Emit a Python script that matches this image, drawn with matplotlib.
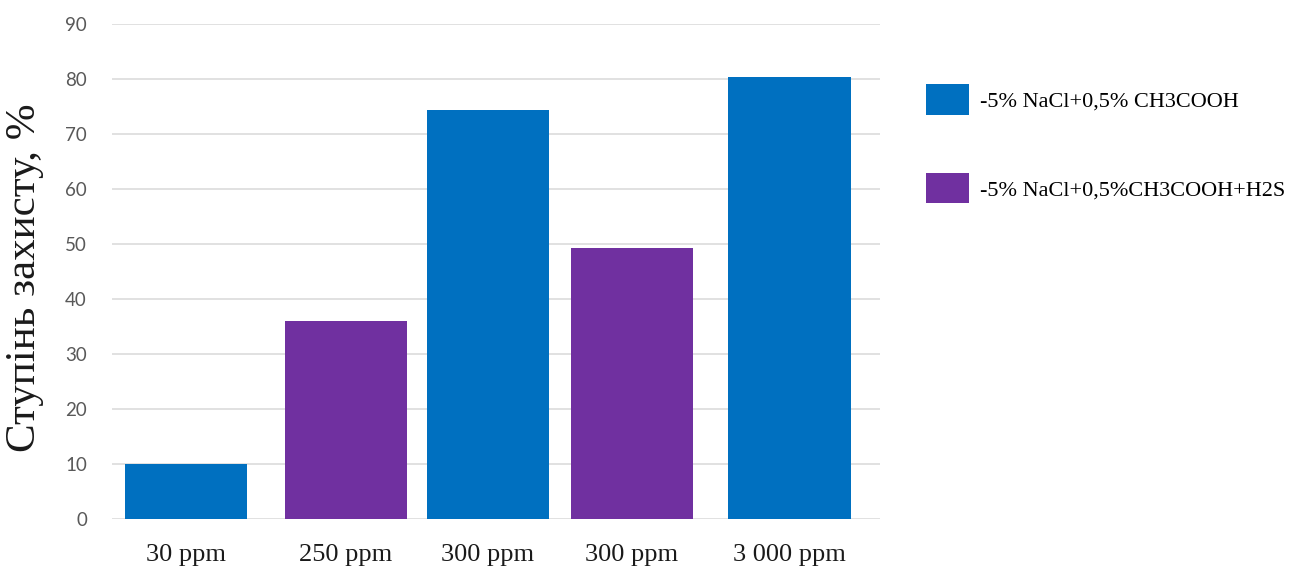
import matplotlib
matplotlib.use("Agg")
import matplotlib.pyplot as plt
from matplotlib.patches import Patch

# Data
categories = ["30 ppm", "250 ppm", "300 ppm", "300 ppm", "3 000 ppm"]
protection = [10, 36, 74.4, 49.3, 80.4]
series_of_bar = [0, 1, 0, 1, 0]
series_labels = ["-5% NaCl+0,5% CH3COOH", "-5% NaCl+0,5%CH3COOH+H2S"]
y_ticks = [0, 10, 20, 30, 40, 50, 60, 70, 80, 90]
y_label = "Ступінь захисту, %"

# Layout / style
positions = [0, 1.06, 2.0, 2.955, 4.0]
bar_width = 0.81
series_colors = ["#0070C0", "#7030A0"]
serif = ["Liberation Serif", "DejaVu Serif"]

fig = plt.figure(figsize=(13.05, 5.7), dpi=100)
ax = fig.add_axes([112 / 1305, 1 - 519 / 570, (880 - 112) / 1305, (519 - 24) / 570])

colors = [series_colors[s] for s in series_of_bar]
ax.bar(positions, protection, width=bar_width, color=colors, zorder=3)

ax.set_ylim(0, 90)
ax.set_xlim(-0.49, 4.60)
ax.set_yticks(y_ticks)
ax.set_yticklabels([str(t) for t in y_ticks], family=["Lato", "DejaVu Sans"],
                   fontsize=13.5, color="#595959")
ax.set_xticks(positions)
ax.set_xticklabels(categories, family=serif, fontsize=19, color="#1a1a1a")
ax.tick_params(axis="y", length=0, pad=18)
ax.tick_params(axis="x", length=0, pad=18)
ax.grid(axis="y", color="#D9D9D9", linewidth=1.1, zorder=0)
ax.set_axisbelow(True)
for sp in ax.spines.values():
    sp.set_visible(False)

fig.text(25 / 1305, 1 - 278 / 570, y_label, rotation=90, ha="center", va="center",
         family=serif, fontsize=31, color="#1a1a1a")

handles = [Patch(facecolor=c, edgecolor="none") for c in series_colors]
fig.legend(handles, series_labels, loc="upper left",
           bbox_to_anchor=(926 / 1305, 1 - 84 / 570), frameon=False,
           prop={"family": serif, "size": 16}, handlelength=1.95, handleheight=1.75,
           handletextpad=0.5, labelspacing=2.6, borderpad=0, borderaxespad=0)

fig.savefig("out.png", dpi=100, facecolor="white")
